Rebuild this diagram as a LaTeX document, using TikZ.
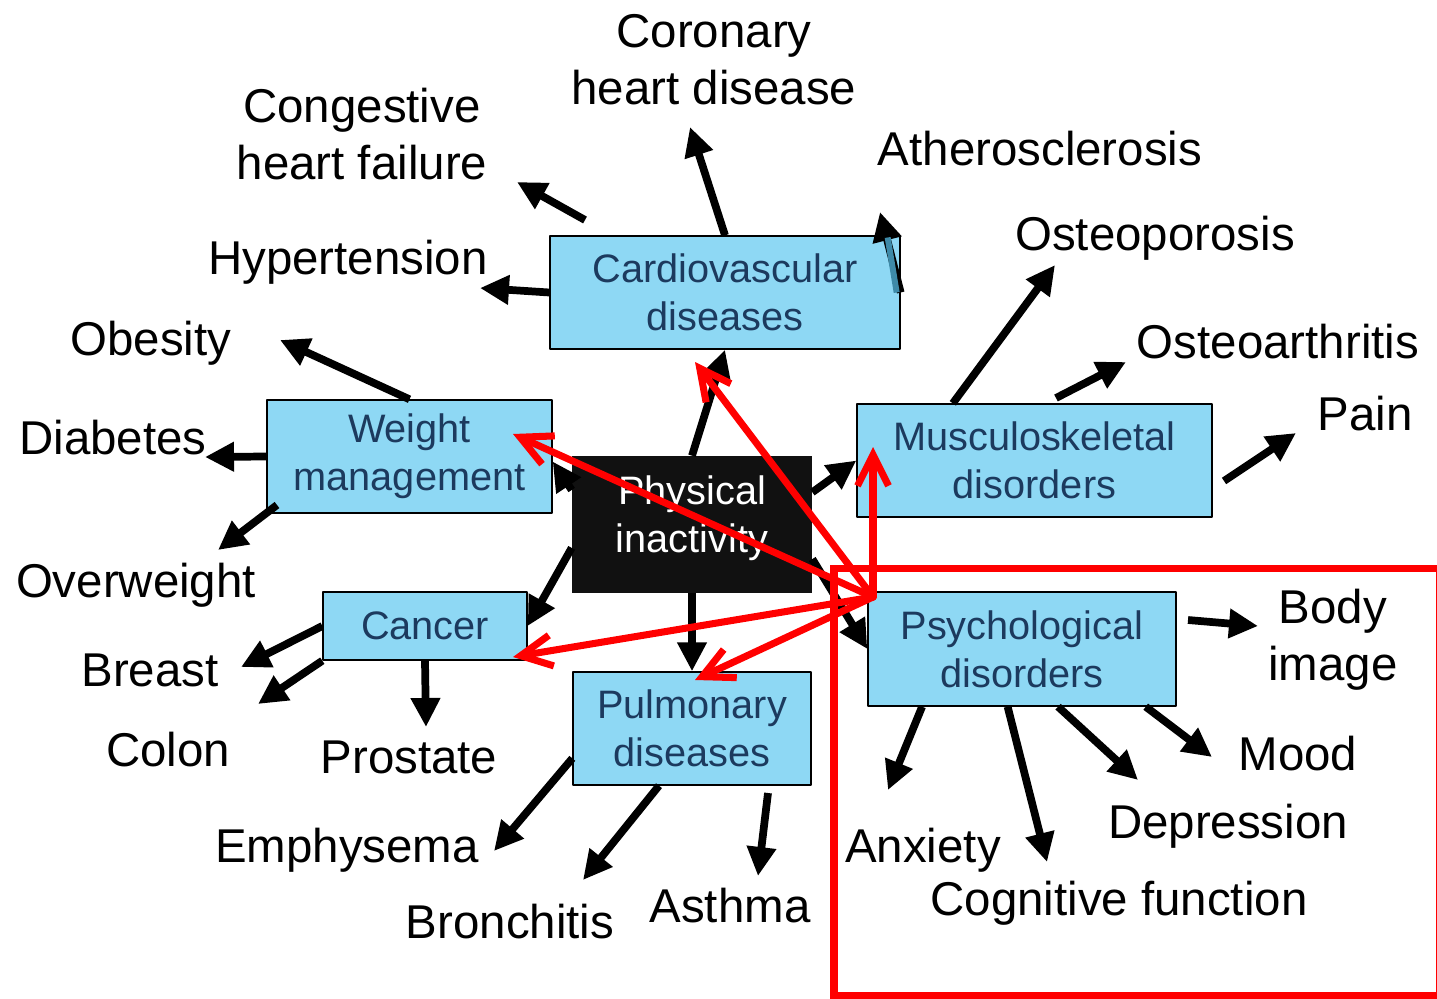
\documentclass[tikz,border=0pt]{standalone}
\usepackage{fontspec}
\setmainfont{Liberation Sans}
\usetikzlibrary{arrows.meta}
\definecolor{boxblue}{RGB}{142,216,244}
\definecolor{boxtext}{RGB}{28,58,94}
\definecolor{tealish}{RGB}{62,138,168}
\definecolor{nearblack}{RGB}{17,17,17}
\tikzset{
  box/.style={draw=black, line width=0.8pt, fill=boxblue, text=boxtext, align=center, inner sep=0pt, font=\fontsize{22.6}{27.3}\selectfont},
  lbl/.style={align=center, inner sep=0pt, text depth=0pt, font=\fontsize{27}{32.4}\selectfont},
  blk/.style={->, line width=4.4pt, line cap=butt},
  redarr/.style={-{Straight Barb[length=0.62cm,width=0.62cm]}, color=red, line width=4pt}
}

\begin{document}
\begin{tikzpicture}[line cap=round,line join=round,>={Triangle[length=0.58cm,width=0.56cm]},x=0.02cm,y=-0.02cm]
    \useasboundingbox (0,0) rectangle (1437,998);
    \node[box, minimum width=7cm, minimum height=2.26cm] (cardio) at (725,292.5) {Cardiovascular\\diseases};
    \node[box, minimum width=5.7cm, minimum height=2.26cm] (weight) at (409.5,456.5) {Weight\\management};
    \node[box, minimum width=7.1cm, minimum height=2.26cm] (musc) at (1034.5,460.5) {Musculoskeletal\\disorders};
    \node[box, minimum width=4.08cm, minimum height=1.36cm] (cancer) at (425,626) {Cancer};
    \node[box, minimum width=4.76cm, minimum height=2.26cm] (pulm) at (692,728.5) {Pulmonary\\diseases};
    \node[box, minimum width=6.16cm, minimum height=2.28cm] (psych) at (1022,649) {Psychological\\disorders};
    \node[fill=nearblack, minimum width=4.8cm, minimum height=2.74cm, inner sep=0pt] (phys) at (692,524.5) {};
    \node[box, draw=none, fill=none, text=white] (phystext) at (692,518.5) {Physical\\inactivity};

    \node[lbl] (coronary) at (714,59) {Coronary\\heart disease};
    \node[lbl] (congestive) at (362,134) {Congestive\\heart failure};
    \node[lbl] (athero) at (1040,148) {Atherosclerosis};
    \node[lbl] (osteopor) at (1155,233) {Osteoporosis};
    \node[lbl] (hypert) at (348,257) {Hypertension};
    \node[lbl] (osteoarth) at (1278,341) {Osteoarthritis};
    \node[lbl] (obesity) at (151,338) {Obesity};
    \node[lbl] (pain) at (1365,413) {Pain};
    \node[lbl] (diabetes) at (113,437) {Diabetes};
    \node[lbl] (overwt) at (136,580) {Overweight};
    \node[lbl] (bodyimg) at (1333,635) {Body\\image};
    \node[lbl] (breast) at (150,670) {Breast};
    \node[lbl] (colon) at (168,749) {Colon};
    \node[lbl] (prostate) at (409,757) {Prostate};
    \node[lbl] (mood) at (1298,753) {Mood};
    \node[lbl] (depress) at (1228,821) {Depression};
    \node[lbl] (emphys) at (347,845) {Emphysema};
    \node[lbl] (anxiety) at (923,845) {Anxiety};
    \node[lbl] (cognit) at (1119,898) {Cognitive function};
    \node[lbl] (bronch) at (510,921) {Bronchitis};
    \node[lbl] (asthma) at (730,905) {Asthma};

    \foreach \n/\x/\y in {coronary-tip/690/127, congest-from/585/220, congest-tip/517/182,
        hypert-tip/480/288, athero-tip/880/212, obesity-tip/280/340, diabetes-tip/205/457,
        overwt-from/277/505, overwt-tip/218/550, osteopor-tip/1055/265, osteoarth-from/1056/398,
        osteoarth-tip/1126/362, pain-from/1224/481, pain-tip/1296/433, breast-tip/241/667,
        colon-tip/258/704, prostate-tip/426/727, emphys-tip/494/851, bronch-tip/583/880,
        asthma-from/768/793, asthma-tip/758/876, body-from/1188/620, body-tip/1258/626,
        anxiety-tip/888/790, cognit-tip/1047/862, depress-tip/1138/780, mood-tip/1212/757}
    \coordinate (\n) at (\x,\y);

    \foreach \s/\t in {cardio.north/coronary-tip, congest-from/congest-tip, cardio.west/hypert-tip,
        cardio.east/athero-tip, phys.north/cardio.south, phys.164/weight.-2, phys.15/musc.west,
        phys.191/cancer.east, phys.south/pulm.north, phys.-16/psych.west,
        weight.north/obesity-tip, weight.west/diabetes-tip, overwt-from/overwt-tip,
        musc.145/osteopor-tip, osteoarth-from/osteoarth-tip, pain-from/pain-tip,
        cancer.west/breast-tip, cancer.south west/colon-tip, cancer.south/prostate-tip,
        pulm.194/emphys-tip, pulm.240/bronch-tip, asthma-from/asthma-tip,
        body-from/body-tip, psych.210/anxiety-tip, psych.256/cognit-tip,
        psych.-58/depress-tip, psych.-25/mood-tip}
    \draw[blk] (\s) -- (\t);
    \draw[tealish, line width=3.4pt, line cap=butt] ([xshift=-0.08cm]cardio.east) -- ++(-9,-55);

    \coordinate (red-hub) at (873,597);
    \coordinate (red-weight) at (513,434);
    \coordinate (red-cardio) at (695,362);
    \coordinate (red-musc) at (873,447);
    \coordinate (red-cancer) at (513,657);
    \coordinate (red-pulm) at (695,680);
    \foreach \t in {red-weight,red-cardio,red-musc,red-cancer,red-pulm}
    \draw[redarr] (red-hub) -- (\t);
    \draw[red, line width=4.2pt, line join=miter] (834,568.5) rectangle (1440,995.5);
\end{tikzpicture}
\end{document}
